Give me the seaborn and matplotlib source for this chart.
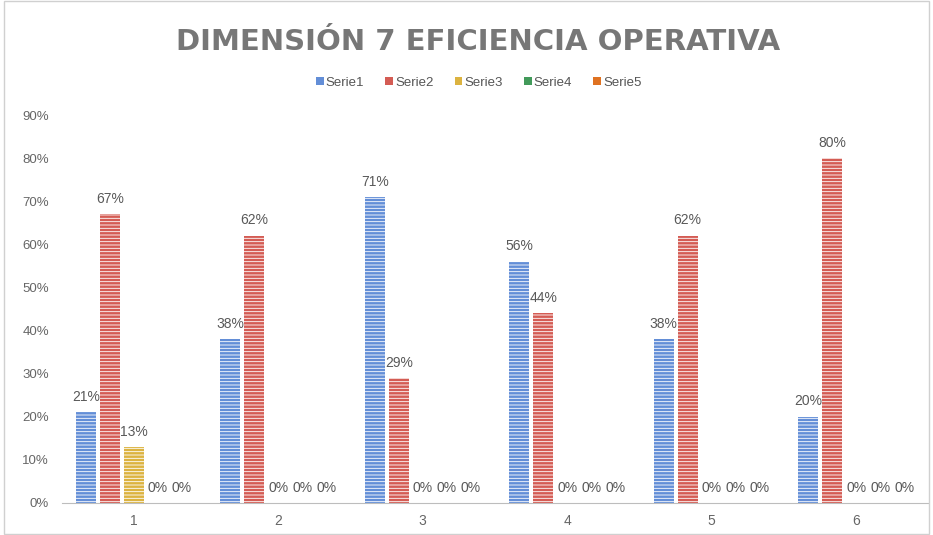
import seaborn as sns
import pandas as pd
import matplotlib
matplotlib.use('Agg')
import matplotlib.pyplot as plt

grupos = ['1', '2', '3', '4', '5', '6']
series = ['Serie1', 'Serie2', 'Serie3', 'Serie4', 'Serie5']
serie1 = [0.21, 0.38, 0.71, 0.56, 0.38, 0.20]
serie2 = [0.67, 0.62, 0.29, 0.44, 0.62, 0.80]
serie3 = [0.13, 0.00, 0.00, 0.00, 0.00, 0.00]
serie4 = [0.00, 0.00, 0.00, 0.00, 0.00, 0.00]
serie5 = [0.00, 0.00, 0.00, 0.00, 0.00, 0.00]
colores = ['#5089ea', '#e9493f', '#f6c026', '#34a853', '#ff6d01']

rows = []
for s, vals in zip(series, [serie1, serie2, serie3, serie4, serie5]):
    for g, v in zip(grupos, vals):
        rows.append({'grupo': g, 'serie': s, 'valor': v})
df = pd.DataFrame(rows)

sns.set_style('white')
plt.rcParams['font.family'] = ['Liberation Sans', 'DejaVu Sans']
plt.rcParams['hatch.color'] = 'white'
plt.rcParams['hatch.linewidth'] = 0.6

fig = plt.figure(figsize=(9.33, 5.35), dpi=100)
ax = fig.add_axes([0.066, 0.060, 0.929, 0.725])

sns.barplot(data=df, x='grupo', y='valor', hue='serie', palette=colores,
            width=0.83, gap=0.17, ax=ax, legend=True)

for p in ax.patches:
    p.set_hatch('-----')
    p.set_edgecolor('white')
    p.set_linewidth(0)

for c in ax.containers:
    ax.bar_label(c, labels=['%d%%' % round(v * 100) for v in c.datavalues],
                 padding=6, fontsize=10, color='#595959')

ax.set_ylim(0, 0.9)
ax.set_xlim(-0.5, 5.5)
ax.set_yticks([i / 10 for i in range(10)])
ax.set_yticklabels(['%d%%' % (i * 10) for i in range(10)], fontsize=9.5, color='#666666')
ax.tick_params(axis='x', labelsize=10, colors='#666666', length=0, pad=8)
ax.tick_params(axis='y', length=0, pad=9)
ax.set_xlabel('')
ax.set_ylabel('')
for s in ['top', 'right', 'left']:
    ax.spines[s].set_visible(False)
ax.spines['bottom'].set_color('#bdbdbd')

handles, labels = ax.get_legend_handles_labels()
ax.get_legend().remove()
leg = fig.legend(handles, labels, loc='center', bbox_to_anchor=(0.513, 0.845), ncol=5,
                 frameon=False, fontsize=9.5, handlelength=0.6, handleheight=0.6,
                 handletextpad=0.15, columnspacing=1.6, labelcolor='#555555')
for h in leg.legend_handles:
    h.set_hatch(None)

fig.text(0.512, 0.9065, 'DIMENSIÓN 7 EFICIENCIA OPERATIVA', fontsize=21, fontweight='bold',
         color='#777777', family=['DejaVu Sans'], ha='center', va='baseline')

fig.patches.append(plt.Rectangle((0.004, 0.002), 0.992, 0.996, transform=fig.transFigure,
                                 fill=False, edgecolor='#d0d0d0', linewidth=1))

fig.savefig('out.png', dpi=100)
